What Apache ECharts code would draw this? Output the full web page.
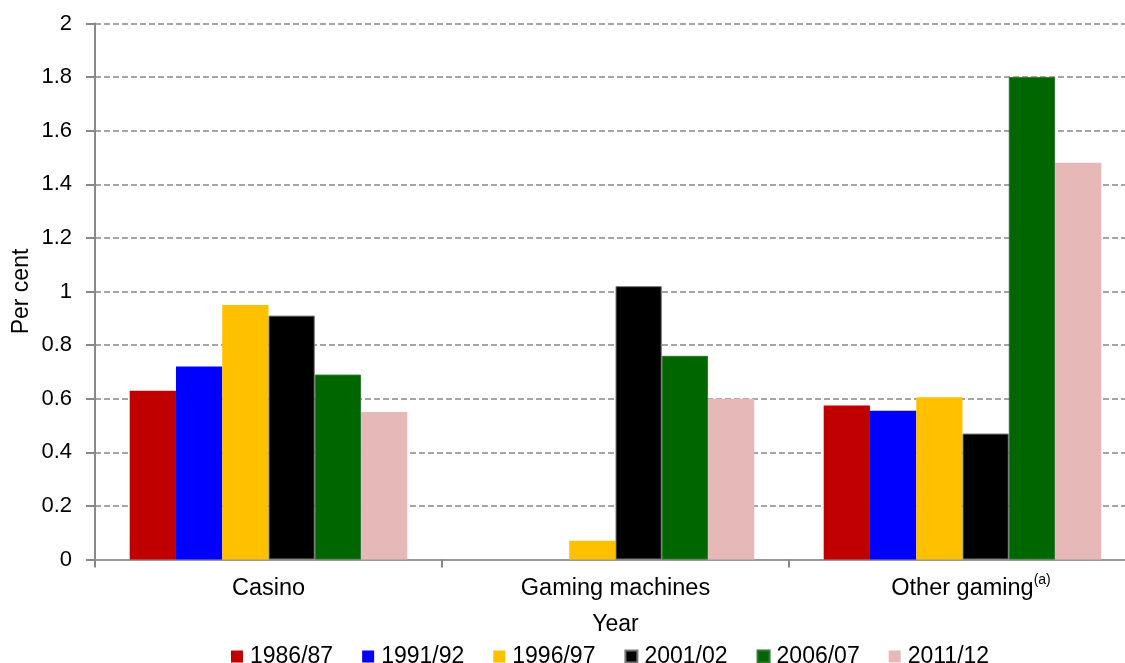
<!DOCTYPE html>
<html>
<head>
<meta charset="utf-8">
<script src="https://cdn.jsdelivr.net/npm/echarts@6/dist/echarts.min.js"></script>
<style>
  html, body { margin: 0; padding: 0; background: #fff; }
  #chart { width: 1125px; height: 663px; }
</style>
</head>
<body>
<div id="chart"></div>
<script>
// Gambling expenditure as a share of household spending, by gaming type
const categories = ['Casino', 'Gaming machines', 'Other gaming'];
const years = ['1986/87', '1991/92', '1996/97', '2001/02', '2006/07', '2011/12'];
const colors = ['#C00000', '#0000FF', '#FFC000', '#000000', '#006600', '#E6B8B7'];

const v1986 = [0.63, null, 0.575];
const v1991 = [0.72, null, 0.555];
const v1996 = [0.95, 0.07, 0.605];
const v2001 = [0.91, 1.02, 0.47];
const v2006 = [0.69, 0.76, 1.80];
const v2011 = [0.55, 0.60, 1.48];
const seriesValues = [v1986, v1991, v1996, v2001, v2006, v2011];

const yMin = 0, yMax = 2, yStep = 0.2;

const FONT = '"Liberation Sans", Arial, sans-serif';
const chart = echarts.init(document.getElementById('chart'));

const series = years.map((y, i) => ({
  name: y,
  type: 'bar',
  data: seriesValues[i],
  barGap: '0%',
  barCategoryGap: '20%',
  itemStyle: {
    color: colors[i],
    borderColor: i === 3 ? '#777' : (i === 4 ? '#2f7a2f' : colors[i]),
    borderWidth: (i === 3 || i === 4) ? 1 : 0
  }
}));

chart.setOption({
  animation: false,
  backgroundColor: '#fff',
  textStyle: { fontFamily: FONT, color: '#000' },
  grid: { left: 95, right: -11, top: 23.5, bottom: 103.5, outerBoundsMode: 'none' },
  xAxis: {
    type: 'category',
    data: categories,
    name: 'Year',
    nameLocation: 'middle',
    nameGap: 54,
    nameMoveOverlap: false,
    nameTextStyle: { fontSize: 23, color: '#000', fontFamily: FONT },
    axisLine: { lineStyle: { color: '#999', width: 2 } },
    axisTick: { show: true, length: 8, lineStyle: { color: '#888', width: 2 } },
    axisLabel: {
      margin: 14,
      fontSize: 23.5,
      color: '#000',
      fontFamily: FONT,
      // footnote marker "(a)" hangs to the right of the centred category name
      formatter: v => v === 'Other gaming' ? '{p|Other gaming}{s|(a)}' : '{n|' + v + '}',
      rich: {
        n: { fontSize: 23.5, lineHeight: 30, color: '#000', fontFamily: FONT },
        p: { fontSize: 23.5, lineHeight: 30, color: '#000', fontFamily: FONT, padding: [0, 0, 0, 17] },
        s: { fontSize: 14, lineHeight: 14, color: '#000', fontFamily: FONT, verticalAlign: 'top' }
      }
    }
  },
  yAxis: {
    type: 'value',
    min: yMin,
    max: yMax,
    interval: yStep,
    name: 'Per cent',
    nameLocation: 'middle',
    nameRotate: 90,
    nameGap: 62,
    nameMoveOverlap: false,
    nameTextStyle: { fontSize: 23, color: '#000', fontFamily: FONT },
    axisLine: { show: true, lineStyle: { color: '#888', width: 2 } },
    axisTick: { show: true, length: 9, lineStyle: { color: '#888', width: 2 } },
    axisLabel: { margin: 23, fontSize: 22, color: '#000', fontFamily: FONT },
    splitLine: { show: true, lineStyle: { color: '#888', width: 1.5, type: [6, 3] } }
  },
  legend: {
    data: years,
    top: 640,
    left: 226,
    itemWidth: 12,
    itemHeight: 12,
    itemGap: 29,
    icon: 'rect',
    textStyle: { fontSize: 23, color: '#000', fontFamily: FONT, padding: [0, 0, 0, 2] }
  },
  series: series
});
</script>
</body>
</html>
